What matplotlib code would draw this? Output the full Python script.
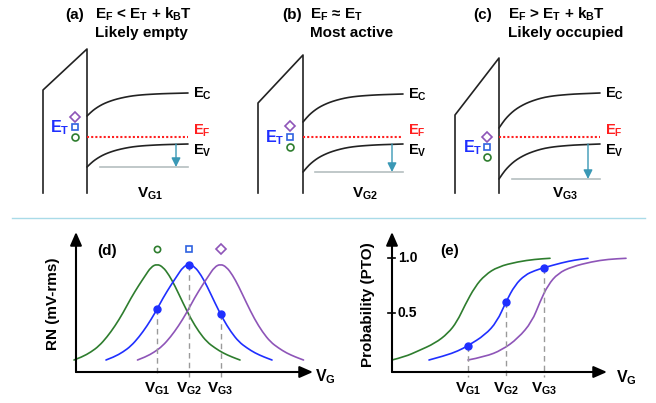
import numpy as np
import matplotlib.pyplot as plt
from matplotlib.path import Path
from matplotlib.patches import PathPatch

plt.rcParams['font.family'] = ['Liberation Sans', 'DejaVu Sans']
plt.rcParams['mathtext.fontset'] = 'custom'
plt.rcParams['mathtext.rm'] = 'Liberation Sans'
plt.rcParams['mathtext.bf'] = 'Liberation Sans:bold'
plt.rcParams['mathtext.it'] = 'Liberation Sans:italic'

GREEN = '#2e7d2e'
BLUE = '#1f2fff'
PURPLE = '#8e55b8'
RED = '#ff2020'
TEAL = '#3a98b5'

# ---------------- top row: band diagrams (a)-(c) ----------------
panel_tags = ['(a)', '(b)', '(c)']
cond_text = [r'$\mathbf{E_F}$ < $\mathbf{E_T}$ + $\mathbf{k_BT}$',
             r'$\mathbf{E_F}$ ≈ $\mathbf{E_T}$',
             r'$\mathbf{E_F}$ > $\mathbf{E_T}$ + $\mathbf{k_BT}$']
state_text = ['Likely empty', 'Most active', 'Likely occupied']
gate_text = [r'$\mathbf{V_{G1}}$', r'$\mathbf{V_{G2}}$', r'$\mathbf{V_{G3}}$']
tag_x = [65, 282, 473]
cond_x = [95, 310, 508]
ox_left = [43, 258, 455]
ox_left_top = [90, 103, 115]
ox_right = [87, 303, 499]
ox_top = [49, 55, 58]
ox_bottom = 193
band_end = [188, 403, 600]
ec_flat = [93, 94, 93]
ev_flat = [144, 144, 144]
ef_level = [137, 137, 137]
bend_depth = [23, 28, 35]
gray_start = [100, 315, 512]
arrow_x = [176, 392, 588]
et_x = [50, 265, 463]
trap_x = [75, 290, 487]
trap_y = [[117, 127, 137], [126, 137, 147], [137, 147, 157]]
vg_label_x = [137, 352, 552]
# band bending: distance from interface vs fraction of bending
bend_dx = [0, 4, 8, 13, 18, 24, 30, 38, 46, 55, 63, 75, 88, 101]
bend_frac = [1.0, 0.83, 0.69, 0.55, 0.44, 0.34, 0.26, 0.18, 0.12, 0.08, 0.057, 0.03, 0.015, 0.0]

# ---------------- (d) RN vs VG ----------------
vg_d = [157, 189, 220.5]
rn_dx = [-83, -75, -66, -58, -50, -42, -34, -26, -18, -12, -6, 0, 6, 12, 18, 26, 34, 42, 50, 58, 66, 75, 83]
rn_y = [360, 357, 352, 346, 337, 326, 313, 298, 285, 276, 267, 264, 267, 275, 286, 303, 319, 332, 342, 348, 353, 357, 360]

# ---------------- (e) probability vs VG ----------------
vg_e = [468, 506, 544]
pg_x = [392, 405, 418, 435, 448, 457, 465, 475, 485, 498, 518, 535, 550]
pg_y = [360, 356.7, 351, 343.3, 333.3, 321.7, 305, 286.7, 275, 266.7, 261.7, 259.3, 258.3]
pb_x = [429, 445, 458, 468, 485, 497, 506, 515, 525, 535, 544, 562, 575, 588]
pb_y = [360, 355.7, 351, 345.7, 335, 321.7, 301.7, 285, 275, 270.5, 267.7, 262.7, 260, 258.3]
pp_x = [468, 485, 502, 518, 532, 540, 548, 558, 572, 592, 608, 626]
pp_y = [360, 356.7, 350, 338.3, 321.7, 301.7, 285, 273.3, 266.7, 261.7, 259.3, 258.3]
prob_ticks = ['1.0', '0.5']
prob_tick_y = [258, 313]

fig = plt.figure(figsize=(6.56, 4.03), dpi=100)
ax = fig.add_axes([0, 0, 1, 1])
ax.set_xlim(0, 656)
ax.set_ylim(403, 0)
ax.axis('off')


def arrow(p0, p1, color='black', lw=1.5, head=(0.8, 0.35), ms=10):
    ax.annotate('', xy=p1, xytext=p0,
                arrowprops=dict(arrowstyle='-|>,head_length=%g,head_width=%g' % head,
                                color=color, lw=lw, shrinkA=0, shrinkB=0,
                                mutation_scale=ms))


def smooth(xs, ys, color, lw=1.2):
    # quadratic bezier through the read points (points act as controls)
    xs = np.asarray(xs, float)
    ys = np.asarray(ys, float)
    verts = [(xs[0], ys[0])]
    codes = [Path.MOVETO]
    for k in range(1, len(xs) - 1):
        verts += [(xs[k], ys[k]), ((xs[k] + xs[k + 1]) / 2, (ys[k] + ys[k + 1]) / 2)]
        codes += [Path.CURVE3, Path.CURVE3]
    verts.append((xs[-1], ys[-1]))
    codes.append(Path.LINETO)
    ax.add_patch(PathPatch(Path(verts, codes), fill=False, edgecolor=color, lw=lw,
                           capstyle='round'))


for i in range(3):
    ax.text(tag_x[i], 19, panel_tags[i], fontsize=11, fontweight='bold', va='baseline')
    ax.text(cond_x[i], 19, cond_text[i], fontsize=11, fontweight='bold', va='baseline')
    ax.text(cond_x[i], 37, state_text[i], fontsize=11, fontweight='bold', va='baseline')

    # oxide
    ax.plot([ox_left[i], ox_left[i], ox_right[i], ox_right[i]],
            [ox_bottom, ox_left_top[i], ox_top[i], ox_bottom], color='#222222', lw=1.2)

    bx = ox_right[i] + np.array(bend_dx) * (band_end[i] - ox_right[i]) / bend_dx[-1]
    bf = np.array(bend_frac) * bend_depth[i]
    smooth(bx, ec_flat[i] + bf, '#222222')
    smooth(bx, ev_flat[i] + bf, '#222222')
    ax.plot([ox_right[i], band_end[i]], [ef_level[i]] * 2, color=RED, lw=1.5,
            linestyle=(0, (1, 1)))
    gy = ev_flat[i] + bend_depth[i]
    ax.plot([gray_start[i], band_end[i]], [gy, gy], color='#b5bfc0', lw=1.2)
    arrow((arrow_x[i], ev_flat[i]), (arrow_x[i], gy), color=TEAL, lw=1.0, head=(0.6, 0.3), ms=9)

    lx = band_end[i] + 5
    ax.text(lx, ec_flat[i] + 5, r'$\mathbf{E_C}$', fontsize=10.5, va='baseline')
    ax.text(lx, ef_level[i] - 2, r'$\mathbf{E_F}$', fontsize=10.5, va='baseline', color=RED)
    ax.text(lx, ev_flat[i] + 11, r'$\mathbf{E_V}$', fontsize=10.5, va='baseline')

    ax.text(et_x[i], trap_y[i][1] + 5, r'$\mathbf{E_T}$', fontsize=11.5, va='baseline', color=BLUE)
    ax.plot(trap_x[i], trap_y[i][0], marker='D', ms=5.5, mfc='none', mec=PURPLE, mew=1.2)
    ax.plot(trap_x[i], trap_y[i][1], marker='s', ms=5, mfc='none', mec='#2f62e0', mew=1.2)
    ax.plot(trap_x[i], trap_y[i][2], marker='o', ms=5, mfc='none', mec=GREEN, mew=1.2)

    ax.text(vg_label_x[i], 198, gate_text[i], fontsize=11, va='baseline')

# separator
ax.plot([12, 645], [218, 218], color='#a9dbe8', lw=1)

# ---------------- (d) ----------------
arrow((76, 372), (76, 232))
arrow((76, 372), (313, 372))
ax.text(315, 381, r'$\mathbf{V_G}$', fontsize=11.5, va='baseline')
ax.text(53, 304, 'RN (mV-rms)', fontsize=11, fontweight='bold', rotation=90,
        ha='center', va='center')
ax.text(97, 251, '(d)', fontsize=11, fontweight='bold', va='center')
for vg, col in zip(vg_d, [GREEN, BLUE, PURPLE]):
    smooth(vg + np.array(rn_dx), rn_y, col)
ax.plot(vg_d[0], 249, marker='o', ms=4.5, mfc='none', mec=GREEN, mew=1.2)
ax.plot(vg_d[1], 249, marker='s', ms=4.5, mfc='none', mec='#2f62e0', mew=1.2)
ax.plot(vg_d[2], 249, marker='D', ms=5, mfc='none', mec=PURPLE, mew=1.2)
blue_rn = np.interp(np.array(vg_d) - vg_d[1], rn_dx, rn_y)
blue_rn[1] += 0.7
for vg, y, lab in zip(vg_d, blue_rn, gate_text):
    ax.plot([vg, vg], [y, 377], color='#9a9a9a', lw=1, linestyle=(0, (4, 3)))
    ax.text(vg, 393, lab, fontsize=11, ha='center', va='baseline')
ax.plot(vg_d, blue_rn, 'o', color=BLUE, ms=5)

# ---------------- (e) ----------------
arrow((392, 372), (392, 232))
arrow((392, 372), (607, 372))
ax.text(616, 382, r'$\mathbf{V_G}$', fontsize=11.5, va='baseline')
ax.text(368, 305, 'Probability (PTO)', fontsize=11, fontweight='bold', rotation=90,
        ha='center', va='center')
ax.text(440, 251, '(e)', fontsize=11, fontweight='bold', va='center')
for lab, ty in zip(prob_ticks, prob_tick_y):
    ax.plot([388, 395], [ty, ty], color='black', lw=1.2)
    ax.text(398, ty, lab, fontsize=10, fontweight='bold', va='center')
smooth(pg_x, pg_y, GREEN)
smooth(pb_x, pb_y, BLUE)
smooth(pp_x, pp_y, PURPLE)
blue_p = np.interp(vg_e, pb_x, pb_y)
for vg, y, lab in zip(vg_e, blue_p, gate_text):
    ax.plot([vg, vg], [y, 377], color='#9a9a9a', lw=1, linestyle=(0, (4, 3)))
    ax.text(vg, 393, lab, fontsize=11, ha='center', va='baseline')
ax.plot(vg_e, blue_p, 'o', color=BLUE, ms=5)

fig.savefig('out.png', dpi=100)
